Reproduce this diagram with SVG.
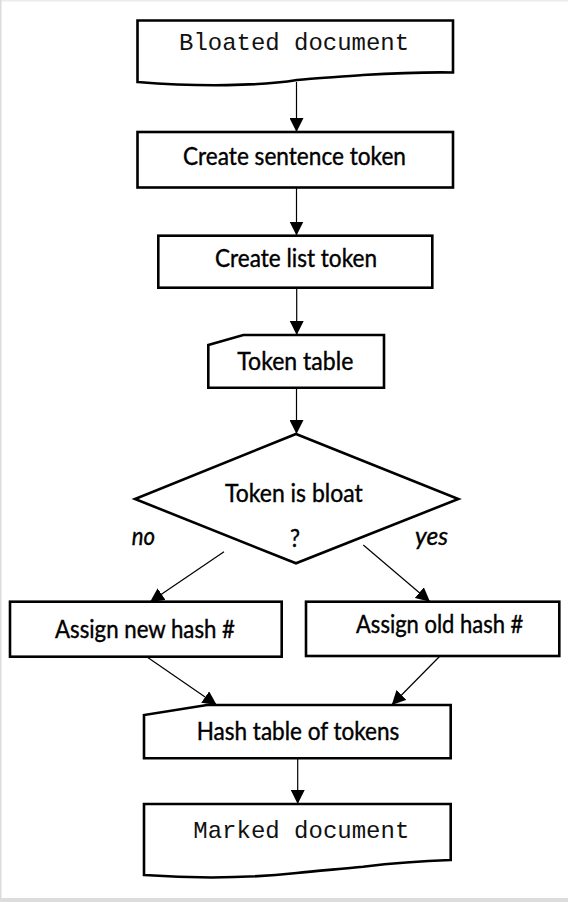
<svg xmlns="http://www.w3.org/2000/svg" width="568" height="902" viewBox="0 0 568 902">
<defs>
<style>
.node{fill:#fff;stroke:#000;stroke-width:2.6;stroke-linejoin:miter}
.conn{stroke:#000;stroke-width:1.2;fill:none;marker-end:url(#ah)}
.lbl{font-family:Lato,"Open Sans","Liberation Sans",sans-serif;font-size:25px;fill:#000;stroke:#000;stroke-width:0.4}
.mono{font-family:"Liberation Mono","DejaVu Sans Mono",monospace;font-size:24px;fill:#111}
.it{font-style:italic}
</style>
<marker id="ah" viewBox="0 0 14 14" refX="14" refY="7" markerWidth="14" markerHeight="14" markerUnits="userSpaceOnUse" orient="auto">
<path d="M0,0 L14,7 L0,14 Z" fill="#000"/>
</marker>
</defs>
<rect x="0" y="0" width="568" height="902" fill="#fff"/>
<rect x="0" y="0" width="568" height="1.5" fill="#ececec"/>
<rect x="0" y="0" width="1.5" height="902" fill="#dcdcdc"/>
<rect x="0" y="898" width="568" height="4" fill="#dcdcdc"/>

<g id="connectors">
<line class="conn" x1="296.5" y1="82" x2="296.5" y2="132"/>
<line class="conn" x1="296.5" y1="188" x2="296.5" y2="235.5"/>
<line class="conn" x1="296.7" y1="288" x2="296.7" y2="335"/>
<line class="conn" x1="296.5" y1="388" x2="296.5" y2="434"/>
<line class="conn" x1="224" y1="551.7" x2="150" y2="602"/>
<line class="conn" x1="363.3" y1="545" x2="430" y2="601.7"/>
<line class="conn" x1="146.7" y1="656.7" x2="216.7" y2="705"/>
<line class="conn" x1="440" y1="656" x2="391.7" y2="705"/>
<line class="conn" x1="297.7" y1="758.3" x2="297.7" y2="804"/>
</g>

<g id="bloated-document">
<path class="node" d="M137.5,20.5 H453 V72.5 C420,72 380,74 363,75 C340,77 315,78 297,80 C260,86 200,87 137.5,82 Z"/>
<text class="mono" x="179" y="50" textLength="230" lengthAdjust="spacingAndGlyphs">Bloated document</text>
</g>

<g id="create-sentence-token">
<rect class="node" x="137.5" y="132" width="315.5" height="55.5"/>
<text class="lbl" x="183" y="165" textLength="223" lengthAdjust="spacingAndGlyphs">Create sentence token</text>
</g>

<g id="create-list-token">
<rect class="node" x="158.3" y="235.7" width="274" height="52"/>
<text class="lbl" x="215" y="266.7" textLength="162" lengthAdjust="spacingAndGlyphs">Create list token</text>
</g>

<g id="token-table">
<path class="node" d="M243.3,335 H384 V387.7 H208.3 V345 Z"/>
<text class="lbl" x="237.3" y="370" textLength="116" lengthAdjust="spacingAndGlyphs">Token table</text>
</g>

<g id="token-is-bloat">
<path class="node" d="M296,434 L458.3,499 L296,563.3 L135,499 Z"/>
<text class="lbl" x="225" y="501.7" textLength="137.7" lengthAdjust="spacingAndGlyphs">Token is bloat</text>
<text class="lbl" x="290" y="546.7" textLength="10" lengthAdjust="spacingAndGlyphs">?</text>
</g>

<g id="branch-labels">
<text class="lbl it" x="131.7" y="545" textLength="23.3" lengthAdjust="spacingAndGlyphs">no</text>
<text class="lbl it" x="415" y="545" textLength="33" lengthAdjust="spacingAndGlyphs">yes</text>
</g>

<g id="assign-new-hash">
<rect class="node" x="10" y="601.7" width="271.7" height="55"/>
<text class="lbl" x="55" y="638.3" textLength="180" lengthAdjust="spacingAndGlyphs">Assign new hash #</text>
</g>

<g id="assign-old-hash">
<rect class="node" x="306" y="601.7" width="253.3" height="54.3"/>
<text class="lbl" x="356" y="633.3" textLength="167.3" lengthAdjust="spacingAndGlyphs">Assign old hash #</text>
</g>

<g id="hash-table">
<path class="node" d="M207,705 H450.7 V758.3 H144 V715 Z"/>
<text class="lbl" x="196.7" y="740" textLength="202.6" lengthAdjust="spacingAndGlyphs">Hash table of tokens</text>
</g>

<g id="marked-document">
<path class="node" d="M144,804 H450.7 V860 C420,861 385,864 363,866.7 C340,869 315,871 296.7,873 C260,877 215,880 144,875 Z"/>
<text class="mono" x="193.3" y="838.3" textLength="216" lengthAdjust="spacingAndGlyphs">Marked document</text>
</g>
</svg>
